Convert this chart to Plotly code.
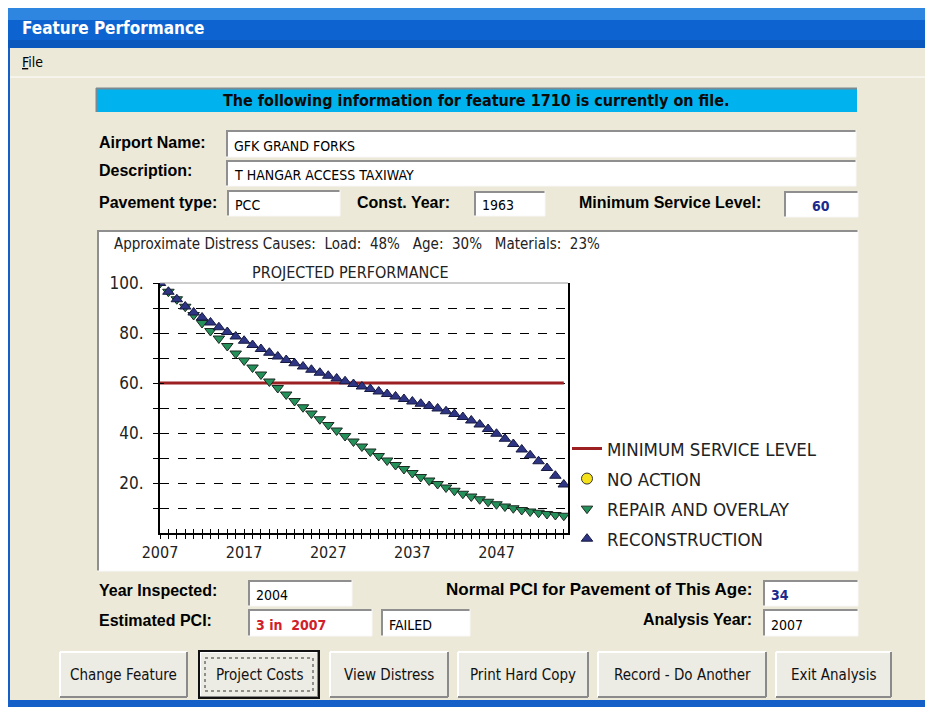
"""
    Feature Performance - projected PCI chart inside the dialog window
    """
# imports
import plotly.graph_objects as go

# chart data
years = list(range(2007, 2056))
repair_overlay = [
    100, 96.5, 93.5, 90.5, 87.2, 84.0, 80.8, 77.8, 74.8, 71.8,
    69.0, 66.2, 63.4, 60.6, 58.0, 55.4, 52.8, 50.3, 47.8, 45.5,
    43.2, 41.0, 38.8, 36.6, 34.6, 32.6, 30.8, 29.0, 27.2, 25.6,
    24.0, 22.4, 21.0, 19.6, 18.2, 16.9, 15.7, 14.6, 13.5, 12.5,
    11.5, 10.6, 9.9, 9.2, 8.6, 8.1, 7.6, 7.2, 6.9,
]
reconstruction = [
    100, 96.5, 93.5, 90.6, 88.2, 86.2, 84.2, 82.3, 80.4, 78.6,
    76.9, 75.2, 73.6, 72.1, 70.6, 69.2, 67.9, 66.6, 65.3, 64.1,
    62.9, 61.8, 60.7, 59.6, 58.6, 57.6, 56.6, 55.6, 54.6, 53.6,
    52.6, 51.7, 50.8, 49.8, 48.7, 47.6, 46.4, 45.0, 43.4, 41.6,
    39.7, 37.7, 35.6, 33.4, 31.1, 28.7, 26.0, 22.9, 19.4,
]
min_service_years = [2007, 2055]
min_service_pci = [60, 60]

# axis ticks
y_tickvals = [10, 20, 30, 40, 50, 60, 70, 80, 90, 100]
y_ticktext = ["", "20.", "", "40.", "", "60.", "", "80.", "", "100."]
x_labelled = [2007, 2017, 2027, 2037, 2047]

# dialog texts
window_title = "Feature Performance"
banner_text = "The following information for feature 1710 is currently on file."
distress_text = ("Approximate Distress Causes:  Load:  48%   "
                 "Age:  30%   Materials:  23%")
chart_title = "PROJECTED PERFORMANCE"
buttons = ["Change Feature", "Project Costs", "View Distress",
           "Print Hard Copy", "Record - Do Another", "Exit Analysis"]

W, H = 933, 707
# the page body adds an 8px margin, so the layout is drawn shifted back by it
OX, OY = 8, 8
BG = "#ECE9D8"
UI_FONT = "Liberation Sans, Arial, sans-serif"
NARROW = "Liberation Sans Narrow, Arial Narrow, DejaVu Sans Condensed, sans-serif"


def px(x):
    return (x - OX) / W


def py(y):
    return 1 - (y - OY) / H


shapes = []
annotations = []


def rect(x0, y0, x1, y1, fill, line=None, width=1, dash=None):
    shapes.append(dict(type="rect", xref="paper", yref="paper",
                       x0=px(x0), x1=px(x1), y0=py(y0), y1=py(y1),
                       fillcolor=fill, layer="below",
                       line=dict(color=line or fill, width=width if line else 0,
                                 dash=dash)))


def hline(x0, x1, y, color, width=1):
    shapes.append(dict(type="line", xref="paper", yref="paper", layer="below",
                       x0=px(x0), x1=px(x1), y0=py(y), y1=py(y),
                       line=dict(color=color, width=width)))


def vline(x, y0, y1, color, width=1):
    shapes.append(dict(type="line", xref="paper", yref="paper", layer="below",
                       x0=px(x), x1=px(x), y0=py(y0), y1=py(y1),
                       line=dict(color=color, width=width)))


def text(x, y, s, size=14, color="#000", bold=False, anchor="left", family=UI_FONT):
    if bold:
        s = "<b>" + s + "</b>"
    annotations.append(dict(x=px(x), y=py(y), xref="paper", yref="paper",
                            text=s, showarrow=False, xanchor=anchor,
                            yanchor="middle",
                            font=dict(family=family, size=size, color=color)))


def sunken(x0, y0, x1, y1, fill="white"):
    rect(x0, y0, x1, y1, fill)
    hline(x0, x1, y0 + 1, "#8f8f8f", 2)
    vline(x0 + 1, y0, y1, "#8f8f8f", 2)
    hline(x0, x1, y1, "#f8f8f8", 1)
    vline(x1, y0, y1, "#f8f8f8", 1)


def textbox(x0, y0, x1, y1, s, color="#000", bold=False, anchor="left"):
    sunken(x0, y0, x1, y1)
    tx = x0 + 6 if anchor == "left" else (x0 + x1) / 2
    text(tx, (y0 + y1) / 2 + 2, s, 14, color, bold, anchor, NARROW)


def button(x0, y0, x1, y1, s, focused=False):
    rect(x0, y0, x1, y1, "#ECEBE4")
    hline(x0, x1, y0, "#ffffff", 2)
    vline(x0, y0, y1, "#ffffff", 2)
    hline(x0, x1, y1, "#8a8a8a", 2)
    vline(x1, y0, y1, "#8a8a8a", 2)
    if focused:
        rect(x0 - 1, y0 - 1, x1 + 1, y1 + 1, "rgba(0,0,0,0)", "#111", 2)
        rect(x0 + 5, y0 + 6, x1 - 5, y1 - 6, "rgba(0,0,0,0)", "#333", 1, "dot")
    text((x0 + x1) / 2, (y0 + y1) / 2, s, 15, "#111", anchor="center", family=NARROW)


# window frame
rect(0, 0, W + OX, 4, "#ffffff")
rect(0, 4, W + OX, 20, "#2f86e0")
rect(0, 20, W + OX, 40, "#0d63cf")
rect(0, 40, W + OX, 48, "#0a57bd")
rect(0, 48, 10, H + OY, "#1560c8")
rect(0, 700, W + OX, H + OY, "#1560c8")
text(20, 28, window_title, 17, "#ffffff", True,
     family="DejaVu Sans Condensed, DejaVu Sans, sans-serif")
text(20, 62, "<u>F</u>ile", 14, "#000", family=NARROW)
hline(10, W + OX, 77, "#ffffff", 1)

# banner
rect(96, 88, 857, 112, "#00B2EE")
hline(96, 857, 88.5, "#7a8a90", 2)
vline(96.5, 88, 112, "#7a8a90", 2)
text(476, 100, banner_text, 16, "#0a0a0a", True, anchor="center", family=NARROW)

# header fields
text(97, 142, "Airport Name:", 16, bold=True)
textbox(226, 130, 856, 157, "GFK GRAND FORKS")
text(97, 171, "Description:", 16, bold=True)
textbox(226, 160, 856, 186, "T HANGAR ACCESS TAXIWAY")
text(97, 203, "Pavement type:", 16, bold=True)
textbox(227, 190, 340, 216, "PCC")
text(355, 203, "Const. Year:", 16, bold=True)
textbox(474, 191, 545, 216, "1963")
text(577, 203, "Minimum Service Level:", 16, bold=True)
textbox(784, 191, 858, 217, "60", "#1c2a8c", True, "center")

# chart panel
sunken(97, 230, 858, 571)
text(112, 244, distress_text, 15, "#222", family=NARROW)
text(350, 273, chart_title, 16, "#222", anchor="center", family=NARROW)

# bottom fields
text(97, 590, "Year Inspected:", 16, bold=True)
textbox(248, 580, 352, 606, "2004")
text(754, 589, "Normal PCI for Pavement of This Age:", 17, bold=True, anchor="right")
textbox(763, 580, 858, 606, "34", "#1c2a8c", True)
text(97, 620, "Estimated PCI:", 16, bold=True)
textbox(248, 609, 372, 636, "3 in  2007", "#d0202a", True)
textbox(381, 609, 470, 636, "FAILED")
text(754, 619, "Analysis Year:", 16, bold=True, anchor="right")
textbox(763, 609, 858, 636, "2007")

button_x = [(60, 187), (200, 318), (330, 448), (458, 588), (598, 766), (776, 891)]
for (bx0, bx1), label in zip(button_x, buttons):
    button(bx0, 652, bx1, 697, label, focused=(label == "Project Costs"))

# thin top edge of the plot frame
shapes.append(dict(type="line", xref="x domain", yref="y domain",
                   x0=0, x1=1, y0=1, y1=1, line=dict(color="#9a9a9a", width=1)))

# plot traces
fig = go.Figure()
fig.add_trace(go.Scatter(
    x=min_service_years, y=min_service_pci, mode="lines",
    name="MINIMUM SERVICE LEVEL", legendgroup="a",
    line=dict(color="#9c1f22", width=3)))
fig.add_trace(go.Scatter(
    x=[None], y=[None], mode="markers", name="NO ACTION", legendgroup="b",
    marker=dict(symbol="circle", size=11, color="#f5e11a",
                line=dict(color="#333", width=1))))
fig.add_trace(go.Scatter(
    x=years, y=repair_overlay, mode="markers", name="REPAIR AND OVERLAY",
    legendgroup="c",
    marker=dict(symbol="triangle-down", size=10, color="#24905a",
                line=dict(color="#1b2b22", width=1))))
fig.add_trace(go.Scatter(
    x=years, y=reconstruction, mode="markers", name="RECONSTRUCTION",
    legendgroup="d",
    marker=dict(symbol="triangle-up", size=10, color="#2f3585",
                line=dict(color="#161a40", width=1))))
# dummy trace for the overlay axes (inside half of the cross ticks)
fig.add_trace(go.Scatter(x=[None], y=[None], xaxis="x2", yaxis="y2",
                         showlegend=False, hoverinfo="skip"))

x_dom = [px(160), px(568)]
y_dom = [py(533), py(283)]
axis_font = dict(family=NARROW, size=16, color="#222")

fig.update_layout(
    width=W, height=H,
    margin=dict(l=0, r=0, t=0, b=0, pad=0, autoexpand=False),
    paper_bgcolor=BG, plot_bgcolor="white",
    shapes=shapes, annotations=annotations,
    showlegend=True,
    legend=dict(x=px(567), y=py(430), xanchor="left", yanchor="top",
                bgcolor="rgba(0,0,0,0)", tracegroupgap=3,
                font=dict(family=NARROW, size=18.5, color="#222"),
                itemwidth=30),
    xaxis=dict(domain=x_dom, range=[2007, 2055.5], anchor="y",
               tickvals=years,
               ticktext=[str(y) if y in x_labelled else "" for y in years],
               ticks="outside", ticklen=4, tickcolor="#000",
               showgrid=False, zeroline=False, automargin=False,
               showline=True, linecolor="#000", linewidth=2,
               ticklabelstandoff=0, tickfont=axis_font),
    yaxis=dict(domain=y_dom, range=[0, 100], anchor="x",
               tickvals=y_tickvals, ticktext=y_ticktext,
               ticks="outside", ticklen=5, tickcolor="#000",
               showgrid=True, gridcolor="#000", gridwidth=1, griddash="dash",
               zeroline=False, showline=True, linecolor="#000", linewidth=2,
               mirror=True, ticklabelstandoff=6,
               tickfont=dict(family=NARROW, size=17, color="#222"),
               automargin=False),
    xaxis2=dict(overlaying="x", matches="x", anchor="y2", domain=x_dom,
                tickvals=years, ticks="inside", ticklen=4, tickcolor="#000",
                showticklabels=False, showgrid=False, zeroline=False,
                automargin=False),
    yaxis2=dict(overlaying="y", matches="y", anchor="x2", domain=y_dom,
                tickvals=y_tickvals, ticks="inside", ticklen=4, tickcolor="#000",
                showticklabels=False, showgrid=False, zeroline=False,
                automargin=False),
)

fig.write_html("out.html")
